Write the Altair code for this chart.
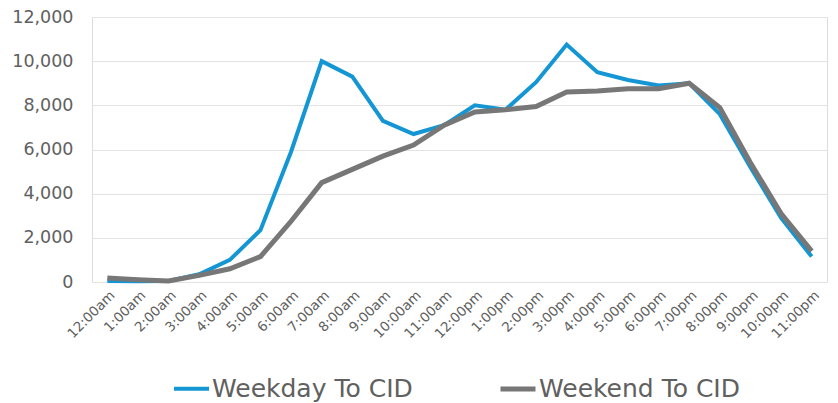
import altair as alt
import pandas as pd

hours = ["12:00am", "1:00am", "2:00am", "3:00am", "4:00am", "5:00am", "6:00am", "7:00am",
         "8:00am", "9:00am", "10:00am", "11:00am", "12:00pm", "1:00pm", "2:00pm", "3:00pm",
         "4:00pm", "5:00pm", "6:00pm", "7:00pm", "8:00pm", "9:00pm", "10:00pm", "11:00pm"]
weekday = [50, 30, 50, 350, 1000, 2350, 5900, 10000, 9300, 7300, 6700, 7100,
           8000, 7800, 9050, 10750, 9500, 9150, 8900, 9000, 7600, 5200, 2900, 1150]
weekend = [180, 100, 50, 300, 600, 1150, 2750, 4500, 5100, 5700, 6200, 7100,
           7700, 7800, 7950, 8600, 8650, 8750, 8750, 9000, 7900, 5400, 3100, 1400]
series = ["Weekday To CID", "Weekend To CID"]
colors = ["#1396d3", "#777777"]

rows = []
for i, h in enumerate(hours):
    rows.append({"hour": h, "order": i, "series": series[0], "value": weekday[i]})
for i, h in enumerate(hours):
    rows.append({"hour": h, "order": i + 100, "series": series[1], "value": weekend[i]})
df = pd.DataFrame(rows)

font = "DejaVu Sans"
txt = "#606060"

chart = alt.Chart(df).mark_line(strokeJoin="miter").encode(
    x=alt.X("hour:N", sort=hours, title=None,
            scale=alt.Scale(paddingInner=0, paddingOuter=0.5),
            axis=alt.Axis(labelAngle=-45, labelFontSize=13.5, labelColor=txt, labelFont=font,
                          domain=False, ticks=False, grid=False, labelPadding=6)),
    y=alt.Y("value:Q", title=None,
            scale=alt.Scale(domain=[0, 12000], nice=False),
            axis=alt.Axis(values=[0, 2000, 4000, 6000, 8000, 10000, 12000], format=",.0f",
                          labelFontSize=17.5, labelColor=txt, labelFont=font,
                          domain=False, ticks=False, gridColor="#e3e3e3", gridWidth=1.2,
                          labelPadding=19)),
    color=alt.Color("series:N", scale=alt.Scale(domain=series, range=colors),
                    legend=alt.Legend(title=None, orient="none", legendX=80, legendY=352,
                                      direction="horizontal", symbolType="stroke",
                                      symbolStrokeWidth=5, symbolSize=1225,
                                      labelFontSize=25, labelFont=font, labelColor=txt,
                                      columnPadding=77, labelLimit=400, labelOffset=1)),
    strokeWidth=alt.StrokeWidth("series:N", scale=alt.Scale(domain=series, range=[4, 5]),
                                legend=None),
    order="order:Q",
).properties(
    width=735, height=265,
    autosize=alt.AutoSizeParams(type="none"),
    padding={"left": 92, "top": 17, "right": 11, "bottom": 121},
).configure_view(stroke=None).configure(background="white")

chart.save("out.html", embed_options={"renderer": "svg", "actions": False})
